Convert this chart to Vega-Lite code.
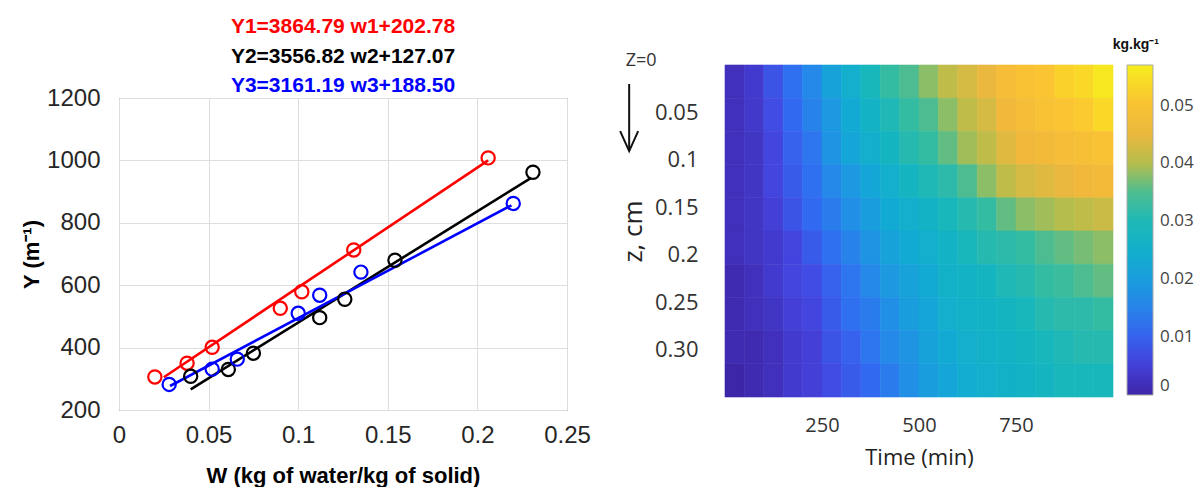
{
  "$schema": "https://vega.github.io/schema/vega-lite/v6.json",
  "background": "white",
  "padding": {"left": 20, "top": 15, "right": 0, "bottom": 0},
  "config": {"view": {"stroke": null}, "font": "Liberation Sans"},
  "datasets": {
    "eqs": [
      {"row": 1, "s": "Y1", "eq": "Y1=3864.79 w1+202.78"},
      {"row": 2, "s": "Y2", "eq": "Y2=3556.82 w2+127.07"},
      {"row": 3, "s": "Y3", "eq": "Y3=3161.19 w3+188.50"}
    ],
    "pts": [
      {"w": 0.020, "y": 306, "s": "Y1"}, {"w": 0.038, "y": 350, "s": "Y1"}, {"w": 0.052, "y": 401, "s": "Y1"},
      {"w": 0.090, "y": 526, "s": "Y1"}, {"w": 0.102, "y": 579, "s": "Y1"}, {"w": 0.131, "y": 713, "s": "Y1"},
      {"w": 0.206, "y": 1008, "s": "Y1"},
      {"w": 0.040, "y": 308, "s": "Y2"}, {"w": 0.061, "y": 330, "s": "Y2"}, {"w": 0.075, "y": 382, "s": "Y2"},
      {"w": 0.112, "y": 496, "s": "Y2"}, {"w": 0.126, "y": 555, "s": "Y2"}, {"w": 0.154, "y": 680, "s": "Y2"},
      {"w": 0.231, "y": 962, "s": "Y2"},
      {"w": 0.028, "y": 282, "s": "Y3"}, {"w": 0.052, "y": 331, "s": "Y3"}, {"w": 0.066, "y": 363, "s": "Y3"},
      {"w": 0.100, "y": 510, "s": "Y3"}, {"w": 0.112, "y": 568, "s": "Y3"}, {"w": 0.135, "y": 642, "s": "Y3"},
      {"w": 0.220, "y": 862, "s": "Y3"}
    ],
    "fits": [
      {"w": 0.025, "y": 305, "s": "Y1"}, {"w": 0.206, "y": 1000, "s": "Y1"},
      {"w": 0.040, "y": 266, "s": "Y2"}, {"w": 0.230, "y": 944, "s": "Y2"},
      {"w": 0.0285, "y": 277, "s": "Y3"}, {"w": 0.219, "y": 856, "s": "Y3"}
    ],
    "note": [{"t": -216, "z": -0.0042, "label": "Z=0"}],
    "arrow": [{"t": -247, "z": 0.020, "z2": 0.0907}],
    "head": [{"t": -247, "z": 0.0907}],
    "heat": [
      {"t":0,"t2":50,"z":0,"z2":0.035,"m":0.002},{"t":50,"t2":100,"z":0,"z2":0.035,"m":0.004},{"t":100,"t2":150,"z":0,"z2":0.035,"m":0.008},{"t":150,"t2":200,"z":0,"z2":0.035,"m":0.012},{"t":200,"t2":250,"z":0,"z2":0.035,"m":0.016},{"t":250,"t2":300,"z":0,"z2":0.035,"m":0.021},{"t":300,"t2":350,"z":0,"z2":0.035,"m":0.025},{"t":350,"t2":400,"z":0,"z2":0.035,"m":0.029},{"t":400,"t2":450,"z":0,"z2":0.035,"m":0.033},{"t":450,"t2":500,"z":0,"z2":0.035,"m":0.035},{"t":500,"t2":550,"z":0,"z2":0.035,"m":0.038},{"t":550,"t2":600,"z":0,"z2":0.035,"m":0.041},{"t":600,"t2":650,"z":0,"z2":0.035,"m":0.043},{"t":650,"t2":700,"z":0,"z2":0.035,"m":0.045},{"t":700,"t2":750,"z":0,"z2":0.035,"m":0.048},{"t":750,"t2":800,"z":0,"z2":0.035,"m":0.050},{"t":800,"t2":850,"z":0,"z2":0.035,"m":0.051},{"t":850,"t2":900,"z":0,"z2":0.035,"m":0.053},{"t":900,"t2":950,"z":0,"z2":0.035,"m":0.054},{"t":950,"t2":1000,"z":0,"z2":0.035,"m":0.056},
      {"t":0,"t2":50,"z":0.035,"z2":0.07,"m":0.002},{"t":50,"t2":100,"z":0.035,"z2":0.07,"m":0.0035},{"t":100,"t2":150,"z":0.035,"z2":0.07,"m":0.007},{"t":150,"t2":200,"z":0.035,"z2":0.07,"m":0.011},{"t":200,"t2":250,"z":0.035,"z2":0.07,"m":0.015},{"t":250,"t2":300,"z":0.035,"z2":0.07,"m":0.019},{"t":300,"t2":350,"z":0.035,"z2":0.07,"m":0.023},{"t":350,"t2":400,"z":0.035,"z2":0.07,"m":0.027},{"t":400,"t2":450,"z":0.035,"z2":0.07,"m":0.030},{"t":450,"t2":500,"z":0.035,"z2":0.07,"m":0.033},{"t":500,"t2":550,"z":0.035,"z2":0.07,"m":0.035},{"t":550,"t2":600,"z":0.035,"z2":0.07,"m":0.038},{"t":600,"t2":650,"z":0.035,"z2":0.07,"m":0.041},{"t":650,"t2":700,"z":0.035,"z2":0.07,"m":0.043},{"t":700,"t2":750,"z":0.035,"z2":0.07,"m":0.046},{"t":750,"t2":800,"z":0.035,"z2":0.07,"m":0.048},{"t":800,"t2":850,"z":0.035,"z2":0.07,"m":0.050},{"t":850,"t2":900,"z":0.035,"z2":0.07,"m":0.051},{"t":900,"t2":950,"z":0.035,"z2":0.07,"m":0.052},{"t":950,"t2":1000,"z":0.035,"z2":0.07,"m":0.054},
      {"t":0,"t2":50,"z":0.07,"z2":0.105,"m":0.002},{"t":50,"t2":100,"z":0.07,"z2":0.105,"m":0.003},{"t":100,"t2":150,"z":0.07,"z2":0.105,"m":0.006},{"t":150,"t2":200,"z":0.07,"z2":0.105,"m":0.010},{"t":200,"t2":250,"z":0.07,"z2":0.105,"m":0.013},{"t":250,"t2":300,"z":0.07,"z2":0.105,"m":0.018},{"t":300,"t2":350,"z":0.07,"z2":0.105,"m":0.022},{"t":350,"t2":400,"z":0.07,"z2":0.105,"m":0.025},{"t":400,"t2":450,"z":0.07,"z2":0.105,"m":0.028},{"t":450,"t2":500,"z":0.07,"z2":0.105,"m":0.031},{"t":500,"t2":550,"z":0.07,"z2":0.105,"m":0.033},{"t":550,"t2":600,"z":0.07,"z2":0.105,"m":0.036},{"t":600,"t2":650,"z":0.07,"z2":0.105,"m":0.039},{"t":650,"t2":700,"z":0.07,"z2":0.105,"m":0.041},{"t":700,"t2":750,"z":0.07,"z2":0.105,"m":0.044},{"t":750,"t2":800,"z":0.07,"z2":0.105,"m":0.046},{"t":800,"t2":850,"z":0.07,"z2":0.105,"m":0.047},{"t":850,"t2":900,"z":0.07,"z2":0.105,"m":0.048},{"t":900,"t2":950,"z":0.07,"z2":0.105,"m":0.049},{"t":950,"t2":1000,"z":0.07,"z2":0.105,"m":0.050},
      {"t":0,"t2":50,"z":0.105,"z2":0.14,"m":0.002},{"t":50,"t2":100,"z":0.105,"z2":0.14,"m":0.003},{"t":100,"t2":150,"z":0.105,"z2":0.14,"m":0.006},{"t":150,"t2":200,"z":0.105,"z2":0.14,"m":0.009},{"t":200,"t2":250,"z":0.105,"z2":0.14,"m":0.012},{"t":250,"t2":300,"z":0.105,"z2":0.14,"m":0.016},{"t":300,"t2":350,"z":0.105,"z2":0.14,"m":0.019},{"t":350,"t2":400,"z":0.105,"z2":0.14,"m":0.022},{"t":400,"t2":450,"z":0.105,"z2":0.14,"m":0.025},{"t":450,"t2":500,"z":0.105,"z2":0.14,"m":0.028},{"t":500,"t2":550,"z":0.105,"z2":0.14,"m":0.030},{"t":550,"t2":600,"z":0.105,"z2":0.14,"m":0.032},{"t":600,"t2":650,"z":0.105,"z2":0.14,"m":0.035},{"t":650,"t2":700,"z":0.105,"z2":0.14,"m":0.038},{"t":700,"t2":750,"z":0.105,"z2":0.14,"m":0.041},{"t":750,"t2":800,"z":0.105,"z2":0.14,"m":0.043},{"t":800,"t2":850,"z":0.105,"z2":0.14,"m":0.044},{"t":850,"t2":900,"z":0.105,"z2":0.14,"m":0.045},{"t":900,"t2":950,"z":0.105,"z2":0.14,"m":0.046},{"t":950,"t2":1000,"z":0.105,"z2":0.14,"m":0.047},
      {"t":0,"t2":50,"z":0.14,"z2":0.175,"m":0.002},{"t":50,"t2":100,"z":0.14,"z2":0.175,"m":0.003},{"t":100,"t2":150,"z":0.14,"z2":0.175,"m":0.005},{"t":150,"t2":200,"z":0.14,"z2":0.175,"m":0.008},{"t":200,"t2":250,"z":0.14,"z2":0.175,"m":0.011},{"t":250,"t2":300,"z":0.14,"z2":0.175,"m":0.014},{"t":300,"t2":350,"z":0.14,"z2":0.175,"m":0.017},{"t":350,"t2":400,"z":0.14,"z2":0.175,"m":0.020},{"t":400,"t2":450,"z":0.14,"z2":0.175,"m":0.023},{"t":450,"t2":500,"z":0.14,"z2":0.175,"m":0.025},{"t":500,"t2":550,"z":0.14,"z2":0.175,"m":0.027},{"t":550,"t2":600,"z":0.14,"z2":0.175,"m":0.029},{"t":600,"t2":650,"z":0.14,"z2":0.175,"m":0.031},{"t":650,"t2":700,"z":0.14,"z2":0.175,"m":0.033},{"t":700,"t2":750,"z":0.14,"z2":0.175,"m":0.036},{"t":750,"t2":800,"z":0.14,"z2":0.175,"m":0.038},{"t":800,"t2":850,"z":0.14,"z2":0.175,"m":0.039},{"t":850,"t2":900,"z":0.14,"z2":0.175,"m":0.040},{"t":900,"t2":950,"z":0.14,"z2":0.175,"m":0.041},{"t":950,"t2":1000,"z":0.14,"z2":0.175,"m":0.042},
      {"t":0,"t2":50,"z":0.175,"z2":0.21,"m":0.002},{"t":50,"t2":100,"z":0.175,"z2":0.21,"m":0.003},{"t":100,"t2":150,"z":0.175,"z2":0.21,"m":0.004},{"t":150,"t2":200,"z":0.175,"z2":0.21,"m":0.006},{"t":200,"t2":250,"z":0.175,"z2":0.21,"m":0.009},{"t":250,"t2":300,"z":0.175,"z2":0.21,"m":0.012},{"t":300,"t2":350,"z":0.175,"z2":0.21,"m":0.015},{"t":350,"t2":400,"z":0.175,"z2":0.21,"m":0.018},{"t":400,"t2":450,"z":0.175,"z2":0.21,"m":0.021},{"t":450,"t2":500,"z":0.175,"z2":0.21,"m":0.023},{"t":500,"t2":550,"z":0.175,"z2":0.21,"m":0.025},{"t":550,"t2":600,"z":0.175,"z2":0.21,"m":0.027},{"t":600,"t2":650,"z":0.175,"z2":0.21,"m":0.029},{"t":650,"t2":700,"z":0.175,"z2":0.21,"m":0.031},{"t":700,"t2":750,"z":0.175,"z2":0.21,"m":0.032},{"t":750,"t2":800,"z":0.175,"z2":0.21,"m":0.033},{"t":800,"t2":850,"z":0.175,"z2":0.21,"m":0.035},{"t":850,"t2":900,"z":0.175,"z2":0.21,"m":0.036},{"t":900,"t2":950,"z":0.175,"z2":0.21,"m":0.037},{"t":950,"t2":1000,"z":0.175,"z2":0.21,"m":0.038},
      {"t":0,"t2":50,"z":0.21,"z2":0.245,"m":0.001},{"t":50,"t2":100,"z":0.21,"z2":0.245,"m":0.002},{"t":100,"t2":150,"z":0.21,"z2":0.245,"m":0.004},{"t":150,"t2":200,"z":0.21,"z2":0.245,"m":0.006},{"t":200,"t2":250,"z":0.21,"z2":0.245,"m":0.007},{"t":250,"t2":300,"z":0.21,"z2":0.245,"m":0.010},{"t":300,"t2":350,"z":0.21,"z2":0.245,"m":0.013},{"t":350,"t2":400,"z":0.21,"z2":0.245,"m":0.016},{"t":400,"t2":450,"z":0.21,"z2":0.245,"m":0.019},{"t":450,"t2":500,"z":0.21,"z2":0.245,"m":0.021},{"t":500,"t2":550,"z":0.21,"z2":0.245,"m":0.023},{"t":550,"t2":600,"z":0.21,"z2":0.245,"m":0.026},{"t":600,"t2":650,"z":0.21,"z2":0.245,"m":0.027},{"t":650,"t2":700,"z":0.21,"z2":0.245,"m":0.028},{"t":700,"t2":750,"z":0.21,"z2":0.245,"m":0.030},{"t":750,"t2":800,"z":0.21,"z2":0.245,"m":0.031},{"t":800,"t2":850,"z":0.21,"z2":0.245,"m":0.033},{"t":850,"t2":900,"z":0.21,"z2":0.245,"m":0.034},{"t":900,"t2":950,"z":0.21,"z2":0.245,"m":0.035},{"t":950,"t2":1000,"z":0.21,"z2":0.245,"m":0.036},
      {"t":0,"t2":50,"z":0.245,"z2":0.28,"m":0.001},{"t":50,"t2":100,"z":0.245,"z2":0.28,"m":0.002},{"t":100,"t2":150,"z":0.245,"z2":0.28,"m":0.003},{"t":150,"t2":200,"z":0.245,"z2":0.28,"m":0.005},{"t":200,"t2":250,"z":0.245,"z2":0.28,"m":0.006},{"t":250,"t2":300,"z":0.245,"z2":0.28,"m":0.009},{"t":300,"t2":350,"z":0.245,"z2":0.28,"m":0.012},{"t":350,"t2":400,"z":0.245,"z2":0.28,"m":0.014},{"t":400,"t2":450,"z":0.245,"z2":0.28,"m":0.017},{"t":450,"t2":500,"z":0.245,"z2":0.28,"m":0.020},{"t":500,"t2":550,"z":0.245,"z2":0.28,"m":0.022},{"t":550,"t2":600,"z":0.245,"z2":0.28,"m":0.025},{"t":600,"t2":650,"z":0.245,"z2":0.28,"m":0.026},{"t":650,"t2":700,"z":0.245,"z2":0.28,"m":0.027},{"t":700,"t2":750,"z":0.245,"z2":0.28,"m":0.028},{"t":750,"t2":800,"z":0.245,"z2":0.28,"m":0.029},{"t":800,"t2":850,"z":0.245,"z2":0.28,"m":0.031},{"t":850,"t2":900,"z":0.245,"z2":0.28,"m":0.032},{"t":900,"t2":950,"z":0.245,"z2":0.28,"m":0.032},{"t":950,"t2":1000,"z":0.245,"z2":0.28,"m":0.033},
      {"t":0,"t2":50,"z":0.28,"z2":0.315,"m":0.001},{"t":50,"t2":100,"z":0.28,"z2":0.315,"m":0.001},{"t":100,"t2":150,"z":0.28,"z2":0.315,"m":0.002},{"t":150,"t2":200,"z":0.28,"z2":0.315,"m":0.004},{"t":200,"t2":250,"z":0.28,"z2":0.315,"m":0.005},{"t":250,"t2":300,"z":0.28,"z2":0.315,"m":0.008},{"t":300,"t2":350,"z":0.28,"z2":0.315,"m":0.010},{"t":350,"t2":400,"z":0.28,"z2":0.315,"m":0.013},{"t":400,"t2":450,"z":0.28,"z2":0.315,"m":0.016},{"t":450,"t2":500,"z":0.28,"z2":0.315,"m":0.018},{"t":500,"t2":550,"z":0.28,"z2":0.315,"m":0.021},{"t":550,"t2":600,"z":0.28,"z2":0.315,"m":0.023},{"t":600,"t2":650,"z":0.28,"z2":0.315,"m":0.025},{"t":650,"t2":700,"z":0.28,"z2":0.315,"m":0.026},{"t":700,"t2":750,"z":0.28,"z2":0.315,"m":0.027},{"t":750,"t2":800,"z":0.28,"z2":0.315,"m":0.028},{"t":800,"t2":850,"z":0.28,"z2":0.315,"m":0.029},{"t":850,"t2":900,"z":0.28,"z2":0.315,"m":0.030},{"t":900,"t2":950,"z":0.28,"z2":0.315,"m":0.031},{"t":950,"t2":1000,"z":0.28,"z2":0.315,"m":0.031},
      {"t":0,"t2":50,"z":0.315,"z2":0.35,"m":0.000},{"t":50,"t2":100,"z":0.315,"z2":0.35,"m":0.001},{"t":100,"t2":150,"z":0.315,"z2":0.35,"m":0.002},{"t":150,"t2":200,"z":0.315,"z2":0.35,"m":0.004},{"t":200,"t2":250,"z":0.315,"z2":0.35,"m":0.005},{"t":250,"t2":300,"z":0.315,"z2":0.35,"m":0.007},{"t":300,"t2":350,"z":0.315,"z2":0.35,"m":0.009},{"t":350,"t2":400,"z":0.315,"z2":0.35,"m":0.011},{"t":400,"t2":450,"z":0.315,"z2":0.35,"m":0.014},{"t":450,"t2":500,"z":0.315,"z2":0.35,"m":0.017},{"t":500,"t2":550,"z":0.315,"z2":0.35,"m":0.020},{"t":550,"t2":600,"z":0.315,"z2":0.35,"m":0.022},{"t":600,"t2":650,"z":0.315,"z2":0.35,"m":0.024},{"t":650,"t2":700,"z":0.315,"z2":0.35,"m":0.025},{"t":700,"t2":750,"z":0.315,"z2":0.35,"m":0.026},{"t":750,"t2":800,"z":0.315,"z2":0.35,"m":0.027},{"t":800,"t2":850,"z":0.315,"z2":0.35,"m":0.028},{"t":850,"t2":900,"z":0.315,"z2":0.35,"m":0.029},{"t":900,"t2":950,"z":0.315,"z2":0.35,"m":0.029},{"t":950,"t2":1000,"z":0.315,"z2":0.35,"m":0.029}
    ]
  },
  "hconcat": [
    {
      "vconcat": [
        {
          "width": 448,
          "height": 27,
          "data": {"name": "eqs"},
          "mark": {"type": "text", "fontSize": 21, "fontWeight": "bold", "font": "Liberation Sans"},
          "encoding": {
            "y": {"field": "row", "type": "quantitative", "axis": null, "scale": {"domain": [2.288, 3.203], "reverse": true, "nice": false, "zero": false}},
            "text": {"field": "eq"},
            "color": {"field": "s", "type": "nominal", "scale": {"domain": ["Y1", "Y2", "Y3"], "range": ["#ff0000", "#000000", "#0000ff"]}, "legend": null}
          }
        },
        {
          "width": 448,
          "height": 312,
          "view": {"stroke": "#444444", "strokeWidth": 1},
          "encoding": {
            "x": {
              "field": "w", "type": "quantitative",
              "scale": {"domain": [0, 0.25], "nice": false, "zero": false},
              "axis": {
                "values": [0, 0.05, 0.1, 0.15, 0.2, 0.25],
                "labelExpr": "format(datum.value, '~g')",
                "title": "W (kg of water/kg of solid)",
                "titleFont": "Liberation Sans", "titleFontSize": 22, "titleFontWeight": "bold", "titleColor": "#000000",
                "labelFont": "Liberation Sans", "labelFontSize": 24, "labelColor": "#262626",
                "ticks": false, "domain": false, "grid": true, "gridColor": "#dedede",
                "labelPadding": 13, "titlePadding": 18, "labelFlush": false
              }
            },
            "y": {
              "field": "y", "type": "quantitative",
              "scale": {"domain": [200, 1200], "nice": false, "zero": false},
              "axis": {
                "values": [200, 400, 600, 800, 1000, 1200],
                "format": "d",
                "title": "Y (m⁻¹)",
                "titleFont": "Liberation Sans", "titleFontSize": 22, "titleFontWeight": "bold", "titleColor": "#000000",
                "labelFont": "Liberation Sans", "labelFontSize": 24, "labelColor": "#262626",
                "ticks": false, "domain": false, "grid": true, "gridColor": "#dedede",
                "labelPadding": 19, "titlePadding": 3, "labelFlush": false
              }
            },
            "color": {"field": "s", "type": "nominal", "scale": {"domain": ["Y1", "Y2", "Y3"], "range": ["#ff0000", "#000000", "#0000ff"]}, "legend": null}
          },
          "layer": [
            {"data": {"name": "fits"}, "mark": {"type": "line", "strokeWidth": 2.6}},
            {"data": {"name": "pts"}, "mark": {"type": "point", "shape": "circle", "size": 175, "strokeWidth": 2.2, "filled": false, "opacity": 1}}
          ]
        }
      ],
      "bounds": "flush",
      "spacing": 6
    },
    {
      "width": 388,
      "height": 332,
      "title": {"text": "kg.kg⁻¹", "anchor": "end", "font": "Liberation Sans", "fontSize": 14, "fontWeight": "bold", "color": "#111111", "dx": -35, "offset": 0},
      "encoding": {
        "x": {
          "field": "t", "type": "quantitative",
          "scale": {"domain": [0, 1000], "nice": false, "zero": false},
          "axis": {
            "values": [250, 500, 750],
            "title": "Time (min)",
            "titleFont": "Open Sans", "titleFontSize": 22, "titleFontWeight": "normal", "titleColor": "#222222",
            "labelFont": "Open Sans", "labelFontSize": 20, "labelColor": "#333333",
            "ticks": false, "domain": false, "grid": false,
            "labelPadding": 18, "titlePadding": 12
          }
        },
        "y": {
          "field": "z", "type": "quantitative",
          "scale": {"domain": [0, 0.35], "nice": false, "zero": false, "reverse": true},
          "axis": {
            "values": [0.05, 0.1, 0.15, 0.2, 0.25, 0.3],
            "labelExpr": "datum.value > 0.29 ? '0.30' : format(datum.value, '~g')",
            "title": "z, cm",
            "titleFont": "Open Sans", "titleFontSize": 26, "titleFontWeight": "normal", "titleColor": "#222222",
            "labelFont": "Open Sans", "labelFontSize": 22, "labelColor": "#333333",
            "ticks": false, "domain": false, "grid": false,
            "labelPadding": 27, "titlePadding": 8
          }
        }
      },
      "layer": [
        {
          "data": {"name": "heat"},
          "mark": {"type": "rect", "strokeWidth": 0.6},
          "encoding": {
            "x2": {"field": "t2"},
            "y2": {"field": "z2"},
            "color": {
              "field": "m", "type": "quantitative",
              "scale": {"domain": [0, 0.057], "interpolate": "rgb", "range": ["#3e26a8", "#4443de", "#316cf2", "#2190e6", "#12aad4", "#14b6bf", "#3cbd9c", "#b4bd4c", "#f0b73c", "#fcc532", "#f5ee1c"]},
              "legend": {
                "title": null, "orient": "right", "offset": 14,
                "gradientLength": 330, "gradientThickness": 26,
                "gradientStrokeColor": "#aaaaaa", "gradientStrokeWidth": 1,
                "values": [0, 0.01, 0.02, 0.03, 0.04, 0.05], "format": ".2~f",
                "labelFont": "Open Sans", "labelFontSize": 17, "labelColor": "#444444", "labelOffset": 7
              }
            },
            "stroke": {
              "field": "m", "type": "quantitative",
              "scale": {"domain": [0, 0.057], "interpolate": "rgb", "range": ["#3e26a8", "#4443de", "#316cf2", "#2190e6", "#12aad4", "#14b6bf", "#3cbd9c", "#b4bd4c", "#f0b73c", "#fcc532", "#f5ee1c"]},
              "legend": null
            }
          }
        },
        {
          "data": {"name": "note"},
          "mark": {"type": "text", "font": "Open Sans", "fontSize": 18, "color": "#333333"},
          "encoding": {"text": {"field": "label"}}
        },
        {
          "data": {"name": "arrow"},
          "mark": {"type": "rule", "strokeWidth": 2, "color": "#111111"},
          "encoding": {"y2": {"field": "z2"}}
        },
        {
          "data": {"name": "head"},
          "mark": {"type": "point", "shape": "M-0.45,-1L0,0L0.45,-1", "size": 1600, "filled": false, "strokeWidth": 2, "color": "#111111", "opacity": 1},
          "encoding": {}
        }
      ]
    }
  ],
  "spacing": 25
}
